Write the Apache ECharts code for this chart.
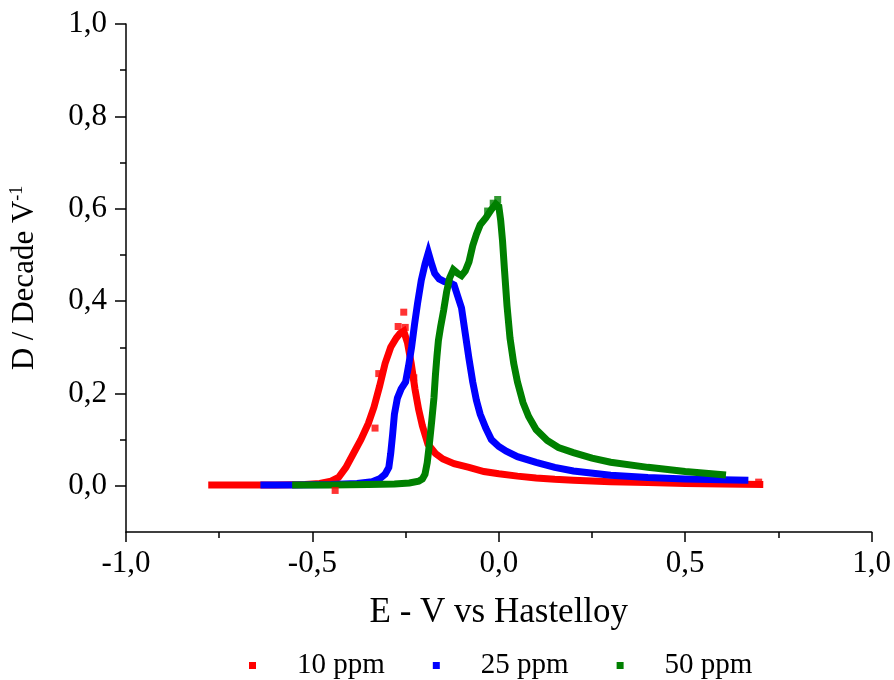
<!DOCTYPE html>
<html>
<head>
<meta charset="utf-8">
<script src="https://cdn.jsdelivr.net/npm/echarts@6/dist/echarts.min.js"></script>
<style>html,body{margin:0;padding:0;background:#fff}#c{width:894px;height:680px}</style>
</head>
<body>
<div id="c"></div>
<script>
// Potential E (V vs Hastelloy) and D (Decade V^-1)
const seriesNames = ['10 ppm', '25 ppm', '50 ppm'];

const x10 = [-0.77,-0.70,-0.60,-0.52,-0.48,-0.45,-0.43,-0.41,-0.39,-0.37,-0.35,-0.335,-0.32,-0.305,-0.29,-0.275,-0.265,-0.255,-0.245,-0.235,-0.225,-0.215,-0.205,-0.19,-0.17,-0.15,-0.12,-0.08,-0.04,0.0,0.05,0.10,0.15,0.20,0.30,0.40,0.50,0.60,0.70];
const y10 = [0.002,0.002,0.002,0.003,0.005,0.010,0.018,0.040,0.070,0.100,0.135,0.170,0.215,0.265,0.300,0.320,0.330,0.335,0.310,0.265,0.210,0.165,0.130,0.090,0.070,0.058,0.048,0.040,0.031,0.026,0.021,0.017,0.014,0.012,0.009,0.007,0.005,0.004,0.003];
// scattered off-curve points of the 10 ppm record
const x10n = [-0.255,-0.251,-0.322,-0.332,-0.228,-0.439,-0.27,0.697];
const y10n = [0.376,0.343,0.243,0.125,0.234,-0.010,0.345,0.008];

const x25 = [-0.63,-0.55,-0.45,-0.38,-0.34,-0.32,-0.305,-0.295,-0.29,-0.285,-0.28,-0.272,-0.262,-0.25,-0.242,-0.234,-0.226,-0.218,-0.208,-0.198,-0.189,-0.18,-0.172,-0.16,-0.146,-0.132,-0.12,-0.11,-0.10,-0.09,-0.08,-0.07,-0.06,-0.05,-0.035,-0.02,0.0,0.02,0.05,0.10,0.15,0.20,0.30,0.40,0.50,0.60,0.66];
const y25 = [0.002,0.002,0.003,0.005,0.009,0.015,0.025,0.040,0.070,0.110,0.155,0.190,0.210,0.225,0.260,0.300,0.350,0.395,0.445,0.480,0.505,0.480,0.460,0.448,0.442,0.440,0.435,0.410,0.385,0.330,0.275,0.225,0.185,0.155,0.125,0.100,0.085,0.075,0.063,0.051,0.040,0.032,0.023,0.018,0.015,0.013,0.012];

const x50 = [-0.545,-0.45,-0.35,-0.28,-0.24,-0.215,-0.205,-0.198,-0.192,-0.187,-0.18,-0.174,-0.17,-0.166,-0.162,-0.156,-0.148,-0.14,-0.132,-0.122,-0.11,-0.10,-0.09,-0.08,-0.07,-0.06,-0.05,-0.035,-0.02,-0.008,0.0,0.005,0.01,0.015,0.022,0.03,0.04,0.05,0.065,0.08,0.10,0.13,0.16,0.20,0.25,0.30,0.40,0.50,0.60];
const y50 = [0.002,0.002,0.003,0.004,0.006,0.010,0.015,0.025,0.050,0.085,0.140,0.190,0.240,0.280,0.315,0.345,0.380,0.420,0.450,0.468,0.460,0.455,0.465,0.485,0.520,0.545,0.565,0.580,0.598,0.610,0.605,0.575,0.530,0.470,0.390,0.320,0.265,0.225,0.180,0.150,0.122,0.098,0.083,0.072,0.060,0.051,0.040,0.031,0.024];
const x50n = [-0.003,-0.015,-0.03];
const y50n = [0.620,0.612,0.595];

const xTicks = [-1.0,-0.5,0.0,0.5,1.0];
const yTicks = [0.0,0.2,0.4,0.6,0.8,1.0];
const yMinorTicks = [0.1,0.3,0.5,0.7,0.9];

const colors = ['#ff0000','#0000ff','#008000'];
const FONT = 'Liberation Serif';

function pairs(xs, ys){ return xs.map((x,i)=>[x, ys[i]]); }
const fmt = v => v.toFixed(1).replace('.', ',');

const chart = echarts.init(document.getElementById('c'), null, {renderer:'canvas'});
const lineSeries = (name, xs, ys, color) => ({
  name, type:'line', data: pairs(xs, ys), showSymbol:false, symbol:'none',
  lineStyle:{color, width:7, cap:'square', join:'miter'}, itemStyle:{color},
  animation:false, z:2
});
const scatterSeries = (name, xs, ys, color) => ({
  name, type:'scatter', data: pairs(xs, ys), symbol:'rect', symbolSize:7,
  itemStyle:{color}, animation:false, z:2
});

chart.setOption({
  backgroundColor:'#fff',
  animation:false,
  grid:{left:122, right:22, top:24, bottom:148},
  legend:{
    left:244, top:646, icon:'rect', itemWidth:7, itemHeight:7, itemGap:48,
    data: seriesNames,
    textStyle:{fontFamily:FONT, fontSize:29, color:'#000', padding:[0,0,0,36]}
  },
  xAxis:{
    type:'value', min:-1, max:1, interval:0.5,
    name:'E - V vs Hastelloy', nameLocation:'middle', nameGap:63,
    nameTextStyle:{fontFamily:FONT, fontSize:35, color:'#000'},
    axisLine:{onZero:false, lineStyle:{color:'#000', width:1.5}},
    axisTick:{show:true, inside:false, length:10, lineStyle:{color:'#000', width:1.5}},
    minorTick:{show:true, splitNumber:2, length:6, lineStyle:{color:'#000', width:1.5}},
    axisLabel:{fontFamily:FONT, fontSize:31, color:'#000', margin:16, formatter: v => fmt(v), customValues: xTicks},
    splitLine:{show:false}, minorSplitLine:{show:false}
  },
  yAxis:[{
    type:'value', min:-0.1, max:1.0,
    name:'{a|D / Decade V}{s|-1}', nameLocation:'middle', nameGap:84, nameRotate:90,
    nameTextStyle:{fontFamily:FONT, color:'#000',
      rich:{a:{fontFamily:FONT, fontSize:31, color:'#000', lineHeight:34},
            s:{fontFamily:FONT, fontSize:18, color:'#000', verticalAlign:'top', lineHeight:20}}},
    axisLine:{onZero:false, lineStyle:{color:'#000', width:1.5}},
    axisTick:{show:true, inside:false, length:11, lineStyle:{color:'#000', width:1.5}, customValues: yTicks},
    axisLabel:{fontFamily:FONT, fontSize:31, color:'#000', margin:19, formatter: v => fmt(v), customValues: yTicks},
    splitLine:{show:false}
  },{
    type:'value', min:-0.1, max:1.0, position:'left', offset:0,
    axisLine:{show:false, onZero:false},
    axisTick:{show:true, inside:false, length:6, lineStyle:{color:'#000', width:1.5}, customValues: yMinorTicks},
    axisLabel:{show:false, customValues: yMinorTicks},
    splitLine:{show:false}
  }],
  series:[
    lineSeries(seriesNames[0], x10, y10, colors[0]),
    scatterSeries(seriesNames[0], x10n, y10n, colors[0]),
    lineSeries(seriesNames[1], x25, y25, colors[1]),
    lineSeries(seriesNames[2], x50, y50, colors[2]),
    scatterSeries(seriesNames[2], x50n, y50n, colors[2])
  ]
});
</script>
</body>
</html>
